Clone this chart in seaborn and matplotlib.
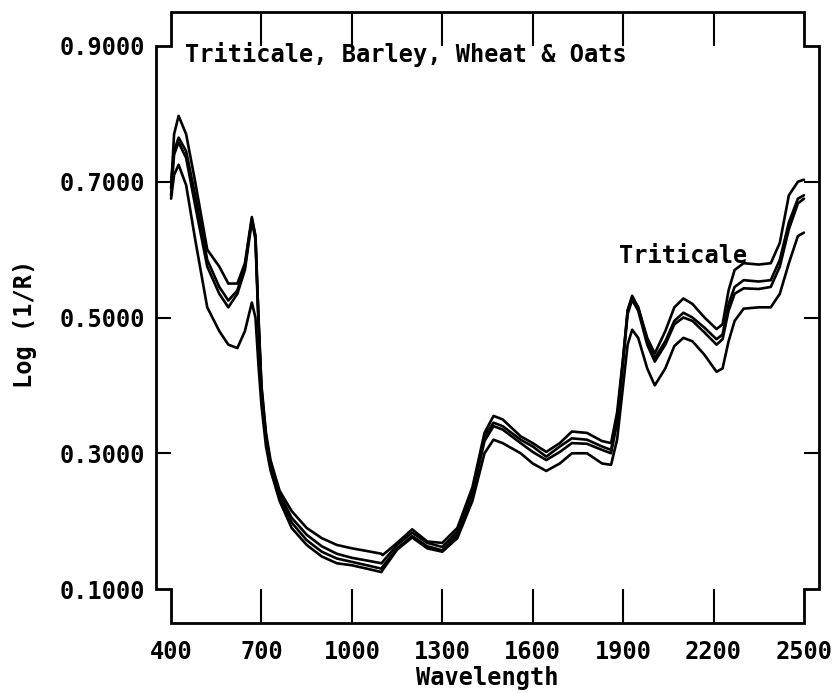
import numpy as np
import pandas as pd
import seaborn as sns
import matplotlib.pyplot as plt

# spectra (wavelength in nm, log(1/R))
wl = [400, 410, 425, 450, 480, 520, 560, 590, 620, 645, 668, 680, 690, 700, 715, 730,
      760, 800, 850, 900, 950, 1000, 1050, 1098, 1102, 1150, 1200, 1250, 1300, 1350,
      1400, 1440, 1470, 1500, 1560, 1600, 1645, 1690, 1730, 1780, 1830, 1860, 1880,
      1900, 1915, 1930, 1950, 1980, 2005, 2040, 2070, 2100, 2130, 2170, 2210, 2230,
      2250, 2270, 2300, 2350, 2390, 2420, 2450, 2480, 2500]

triticale = [0.69, 0.77, 0.797, 0.77, 0.70, 0.60, 0.575, 0.55, 0.55, 0.58, 0.648, 0.62, 0.50,
             0.40, 0.33, 0.29, 0.245, 0.215, 0.19, 0.175, 0.165, 0.16, 0.156, 0.152, 0.15,
             0.168, 0.188, 0.17, 0.168, 0.19, 0.25, 0.33, 0.355, 0.35, 0.325, 0.315, 0.302,
             0.315, 0.332, 0.33, 0.318, 0.315, 0.36, 0.44, 0.51, 0.532, 0.515, 0.47, 0.447,
             0.48, 0.515, 0.528, 0.52, 0.50, 0.483, 0.49, 0.54, 0.57, 0.58, 0.578, 0.58,
             0.61, 0.68, 0.70, 0.703]
barley = [0.70, 0.745, 0.765, 0.745, 0.68, 0.585, 0.545, 0.525, 0.54, 0.575, 0.645, 0.62, 0.50,
          0.395, 0.325, 0.285, 0.24, 0.205, 0.18, 0.163, 0.152, 0.146, 0.142, 0.138, 0.14,
          0.165, 0.183, 0.168, 0.162, 0.185, 0.245, 0.325, 0.345, 0.34, 0.32, 0.31, 0.295,
          0.31, 0.322, 0.32, 0.31, 0.305, 0.35, 0.44, 0.51, 0.53, 0.515, 0.465, 0.44,
          0.465, 0.495, 0.507, 0.50, 0.485, 0.468, 0.475, 0.52, 0.545, 0.555, 0.553, 0.555,
          0.585, 0.64, 0.675, 0.68]
wheat = [0.68, 0.74, 0.758, 0.735, 0.665, 0.575, 0.535, 0.515, 0.535, 0.57, 0.642, 0.615, 0.49,
         0.39, 0.32, 0.28, 0.235, 0.198, 0.172, 0.155, 0.145, 0.14, 0.135, 0.13, 0.133,
         0.16, 0.178, 0.163, 0.157, 0.18, 0.24, 0.318, 0.34, 0.335, 0.315, 0.302, 0.29,
         0.302, 0.315, 0.314, 0.305, 0.30, 0.345, 0.435, 0.505, 0.526, 0.51, 0.46, 0.435,
         0.46, 0.49, 0.50, 0.495, 0.478, 0.46, 0.468, 0.51, 0.535, 0.543, 0.542, 0.545,
         0.575, 0.63, 0.668, 0.675]
oats = [0.675, 0.71, 0.725, 0.695, 0.615, 0.515, 0.48, 0.46, 0.455, 0.48, 0.522, 0.50, 0.43,
        0.37, 0.31, 0.275, 0.23, 0.19, 0.165, 0.148, 0.138, 0.135, 0.13, 0.125, 0.128,
        0.158, 0.176, 0.16, 0.155, 0.175, 0.23, 0.30, 0.32, 0.315, 0.30, 0.285, 0.274,
        0.285, 0.30, 0.30, 0.285, 0.283, 0.32, 0.40, 0.46, 0.482, 0.47, 0.425, 0.40,
        0.425, 0.458, 0.47, 0.465, 0.445, 0.42, 0.425, 0.465, 0.495, 0.513, 0.515, 0.515,
        0.535, 0.58, 0.62, 0.625]

xticks = [400, 700, 1000, 1300, 1600, 1900, 2200, 2500]
yticks = [0.1, 0.3, 0.5, 0.7, 0.9]

df = pd.DataFrame({
    'Wavelength': wl * 4,
    'logR': triticale + barley + wheat + oats,
    'grain': ['Triticale'] * len(wl) + ['Barley'] * len(wl) + ['Wheat'] * len(wl) + ['Oats'] * len(wl),
})

sns.set_style('white')
plt.rcParams['font.family'] = ['DejaVu Sans Mono']
plt.rcParams['font.weight'] = 'bold'
plt.rcParams['text.color'] = 'black'
plt.rcParams['axes.labelcolor'] = 'black'
plt.rcParams['xtick.color'] = 'black'
plt.rcParams['ytick.color'] = 'black'

fig = plt.figure(figsize=(8.33, 6.93), dpi=100)
ax = fig.add_axes([156 / 833, 70 / 693, 663 / 833, 611 / 693])

sns.lineplot(data=df, x='Wavelength', y='logR', hue='grain', palette=['black'] * 4,
             estimator=None, sort=False, legend=False, linewidth=1.9, ax=ax)

# stepped frame like the original instrument plot
x0, x1 = xticks[0], xticks[-1]
y0, y1 = yticks[0], yticks[-1]
xl, xr, yb, yt = 350, 2550, 0.05, 0.95
ax.plot([x0, x1, x1, xr, xr, x1, x1, x0, x0, xl, xl, x0, x0],
        [yt, yt, y1, y1, y0, y0, yb, yb, y0, y0, y1, y1, yt],
        color='black', lw=2, clip_on=False, solid_joinstyle='miter')
ax.vlines(xticks[1:-1], yb, y0, color='black', lw=1.5)
ax.vlines(xticks[1:-1], y1, yt, color='black', lw=1.5)
ax.hlines(yticks[1:-1], xl, x0, color='black', lw=1.5)
ax.hlines(yticks[1:-1], x1, xr, color='black', lw=1.5)

ax.set_xlim(xl, xr)
ax.set_ylim(yb, yt)
for s in ax.spines.values():
    s.set_visible(False)
ax.set_xticks(xticks)
ax.set_yticks(yticks)
ax.set_yticklabels([f'{v:.4f}' for v in yticks])
ax.tick_params(axis='x', length=0, pad=12, labelsize=17)
ax.tick_params(axis='y', length=0, pad=8, labelsize=17)

ax.set_xlabel('Wavelength', fontsize=17, fontweight='bold')
ax.set_ylabel('Log (1/R)', fontsize=17, fontweight='bold')
ax.xaxis.set_label_coords(0.5, -0.07)
ax.yaxis.set_label_coords(-0.18, 0.49)

ax.text(445, 0.888, 'Triticale, Barley, Wheat & Oats', fontsize=17, fontweight='bold', va='center')
ax.text(1885, 0.59, 'Triticale', fontsize=17, fontweight='bold', va='center')

fig.savefig('out.png', dpi=100)
